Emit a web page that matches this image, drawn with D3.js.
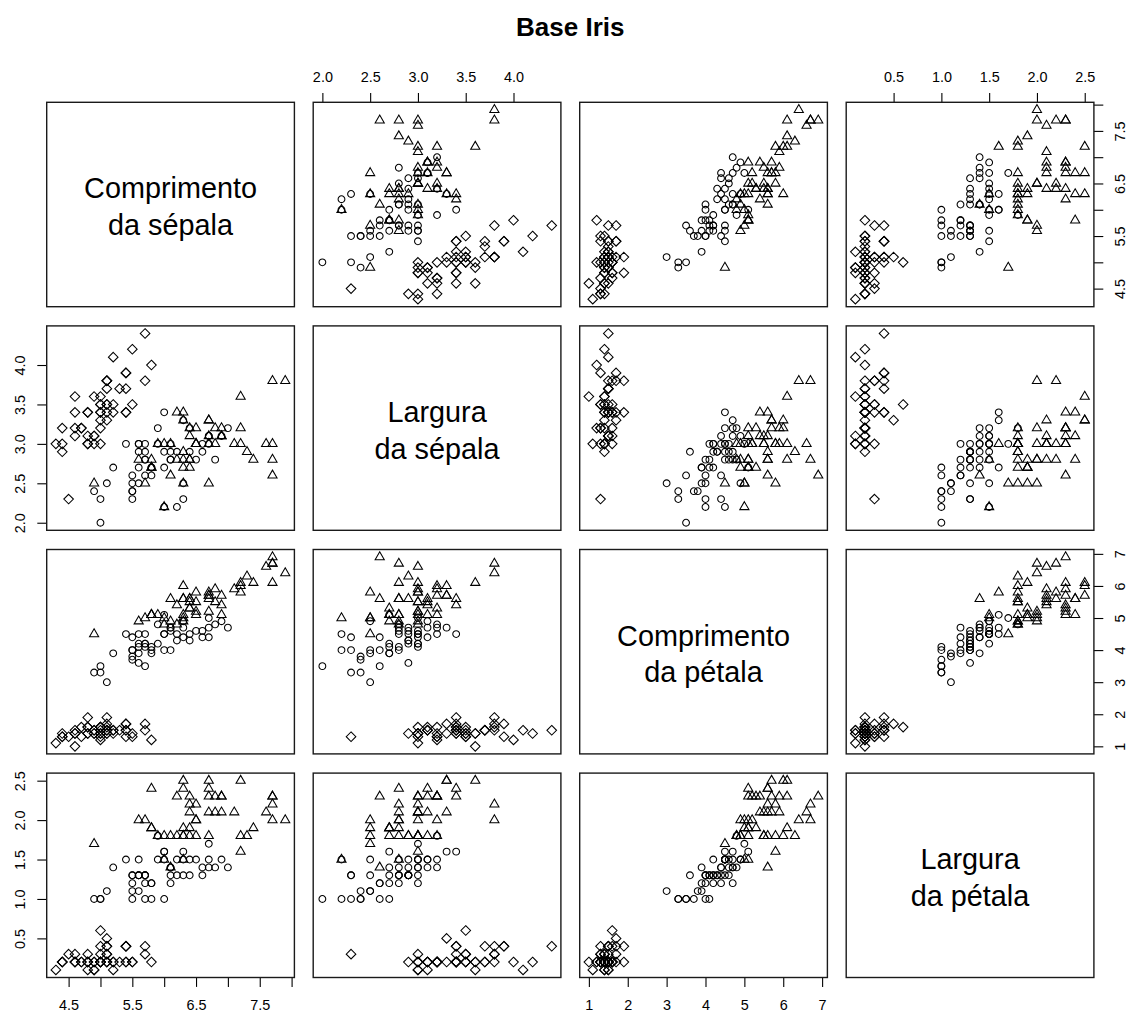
<!DOCTYPE html>
<html>
<head>
<meta charset="utf-8">
<script src="https://cdnjs.cloudflare.com/ajax/libs/d3/7.8.5/d3.min.js"></script>
<style>
  body { margin: 0; background: #fff; }
  svg { display: block; font-family: "Liberation Sans", Arial, sans-serif; }
</style>
</head>
<body>
<div id="pairs_Vis"></div>
<script>
// base iris (Anderson / Fisher), uma linha por flor
var comprSepala = [5.1,4.9,4.7,4.6,5.0,5.4,4.6,5.0,4.4,4.9,5.4,4.8,4.8,4.3,5.8,5.7,5.4,5.1,5.7,5.1,
  5.4,5.1,4.6,5.1,4.8,5.0,5.0,5.2,5.2,4.7,4.8,5.4,5.2,5.5,4.9,5.0,5.5,4.9,4.4,5.1,
  5.0,4.5,4.4,5.0,5.1,4.8,5.1,4.6,5.3,5.0,
  7.0,6.4,6.9,5.5,6.5,5.7,6.3,4.9,6.6,5.2,5.0,5.9,6.0,6.1,5.6,6.7,5.6,5.8,6.2,5.6,
  5.9,6.1,6.3,6.1,6.4,6.6,6.8,6.7,6.0,5.7,5.5,5.5,5.8,6.0,5.4,6.0,6.7,6.3,5.6,5.5,
  5.5,6.1,5.8,5.0,5.6,5.7,5.7,6.2,5.1,5.7,
  6.3,5.8,7.1,6.3,6.5,7.6,4.9,7.3,6.7,7.2,6.5,6.4,6.8,5.7,5.8,6.4,6.5,7.7,7.7,6.0,
  6.9,5.6,7.7,6.3,6.7,7.2,6.2,6.1,6.4,7.2,7.4,7.9,6.4,6.3,6.1,7.7,6.3,6.4,6.0,6.9,
  6.7,6.9,5.8,6.8,6.7,6.7,6.3,6.5,6.2,5.9];

var largSepala = [3.5,3.0,3.2,3.1,3.6,3.9,3.4,3.4,2.9,3.1,3.7,3.4,3.0,3.0,4.0,4.4,3.9,3.5,3.8,3.8,
  3.4,3.7,3.6,3.3,3.4,3.0,3.4,3.5,3.4,3.2,3.1,3.4,4.1,4.2,3.1,3.2,3.5,3.6,3.0,3.4,
  3.5,2.3,3.2,3.5,3.8,3.0,3.8,3.2,3.7,3.3,
  3.2,3.2,3.1,2.3,2.8,2.8,3.3,2.4,2.9,2.7,2.0,3.0,2.2,2.9,2.9,3.1,3.0,2.7,2.2,2.5,
  3.2,2.8,2.5,2.8,2.9,3.0,2.8,3.0,2.9,2.6,2.4,2.4,2.7,2.7,3.0,3.4,3.1,2.3,3.0,2.5,
  2.6,3.0,2.6,2.3,2.7,3.0,2.9,2.9,2.5,2.8,
  3.3,2.7,3.0,2.9,3.0,3.0,2.5,2.9,2.5,3.6,3.2,2.7,3.0,2.5,2.8,3.2,3.0,3.8,2.6,2.2,
  3.2,2.8,2.8,2.7,3.3,3.2,2.8,3.0,2.8,3.0,2.8,3.8,2.8,2.8,2.6,3.0,3.4,3.1,3.0,3.1,
  3.1,3.1,2.7,3.2,3.3,3.0,2.5,3.0,3.4,3.0];

var comprPetala = [1.4,1.4,1.3,1.5,1.4,1.7,1.4,1.5,1.4,1.5,1.5,1.6,1.4,1.1,1.2,1.5,1.3,1.4,1.7,1.5,
  1.7,1.5,1.0,1.7,1.9,1.6,1.6,1.5,1.4,1.6,1.6,1.5,1.5,1.4,1.5,1.2,1.3,1.4,1.3,1.5,
  1.3,1.3,1.3,1.6,1.9,1.4,1.6,1.4,1.5,1.4,
  4.7,4.5,4.9,4.0,4.6,4.5,4.7,3.3,4.6,3.9,3.5,4.2,4.0,4.7,3.6,4.4,4.5,4.1,4.5,3.9,
  4.8,4.0,4.9,4.7,4.3,4.4,4.8,5.0,4.5,3.5,3.8,3.7,3.9,5.1,4.5,4.5,4.7,4.4,4.1,4.0,
  4.4,4.6,4.0,3.3,4.2,4.2,4.2,4.3,3.0,4.1,
  6.0,5.1,5.9,5.6,5.8,6.6,4.5,6.3,5.8,6.1,5.1,5.3,5.5,5.0,5.1,5.3,5.5,6.7,6.9,5.0,
  5.7,4.9,6.7,4.9,5.7,6.0,4.8,4.9,5.6,5.8,6.1,6.4,5.6,5.1,5.6,6.1,5.6,5.5,4.8,5.4,
  5.6,5.1,5.1,5.9,5.7,5.2,5.0,5.2,5.4,5.1];

var largPetala = [0.2,0.2,0.2,0.2,0.2,0.4,0.3,0.2,0.2,0.1,0.2,0.2,0.1,0.1,0.2,0.4,0.4,0.3,0.3,0.3,
  0.2,0.4,0.2,0.5,0.2,0.2,0.4,0.2,0.2,0.2,0.2,0.4,0.1,0.2,0.2,0.2,0.2,0.1,0.2,0.2,
  0.3,0.3,0.2,0.6,0.4,0.3,0.2,0.2,0.2,0.2,
  1.4,1.5,1.5,1.3,1.5,1.3,1.6,1.0,1.3,1.4,1.0,1.5,1.0,1.4,1.3,1.4,1.5,1.0,1.5,1.1,
  1.8,1.3,1.5,1.2,1.3,1.4,1.4,1.7,1.5,1.0,1.1,1.0,1.2,1.6,1.5,1.6,1.5,1.3,1.3,1.3,
  1.2,1.4,1.2,1.0,1.3,1.2,1.3,1.3,1.1,1.3,
  2.5,1.9,2.1,1.8,2.2,2.1,1.7,1.8,1.8,2.5,2.0,1.9,2.1,2.0,2.4,2.3,1.8,2.2,2.3,1.5,
  2.3,2.0,2.0,1.8,2.1,1.8,1.8,1.8,2.1,1.6,1.9,2.0,2.2,1.5,1.4,2.3,2.4,1.8,1.8,2.1,
  2.4,2.3,1.9,2.3,2.5,2.3,1.9,2.0,2.3,1.8];

// s = setosa (losango), e = versicolor (círculo), g = virginica (triângulo)
var especie = ("ssssssssss" + "ssssssssss" + "ssssssssss" + "ssssssssss" + "ssssssssss" +
               "eeeeeeeeee" + "eeeeeeeeee" + "eeeeeeeeee" + "eeeeeeeeee" + "eeeeeeeeee" +
               "gggggggggg" + "gggggggggg" + "gggggggggg" + "gggggggggg" + "gggggggggg").split("");

var rotulos = [["Comprimento", "da sépala"], ["Largura", "da sépala"],
               ["Comprimento", "da pétala"], ["Largura", "da pétala"]];

var marcas = [[4.5, 5.0, 5.5, 6.0, 6.5, 7.0, 7.5, 8.0],
              [2.0, 2.5, 3.0, 3.5, 4.0],
              [1, 2, 3, 4, 5, 6, 7],
              [0.5, 1.0, 1.5, 2.0, 2.5]];
var marcasComTexto = [[4.5, 5.5, 6.5, 7.5],
                      [2.0, 2.5, 3.0, 3.5, 4.0],
                      [1, 2, 3, 4, 5, 6, 7],
                      [0.5, 1.0, 1.5, 2.0, 2.5]];
var formatos = [".1f", ".1f", "d", ".1f"];

var titulo = "Base Iris";

(function () {
    var width = 1126,
        height = 1012;

    var left0 = 46.7, top0 = 102.3,
        pw = 247.7, ph = 204.4,
        passoX = 266.5, passoY = 223.6,
        tick = 9.4;

    var vars = [comprSepala, largSepala, comprPetala, largPetala];

    var svg = d3.select('#pairs_Vis')
                .append('svg')
                .attr('width', width)
                .attr('height', height);

    // dominios como no R: extensao dos dados + 4%
    var dominios = vars.map(function (v) {
        var e = d3.extent(v), r = e[1] - e[0];
        return [e[0] - 0.04 * r, e[1] + 0.04 * r];
    });

    // simbolos pch 1, 2, 5 com as proporcoes do R
    var xc = 3.4;
    function simbolo(sp) {
        if (sp === "e") {
            return "M" + xc + ",0A" + xc + "," + xc + " 0 1,1 " + (-xc) + ",0A" + xc + "," + xc + " 0 1,1 " + xc + ",0Z";
        }
        if (sp === "g") {
            var r = 1.55512 * xc, yc = 0.77756 * xc, hx = 1.34677 * xc;
            return "M0," + (-r) + "L" + hx + "," + yc + "L" + (-hx) + "," + yc + "Z";
        }
        var d = Math.SQRT2 * xc;
        return "M0," + (-d) + "L" + d + ",0L0," + d + "L" + (-d) + ",0Z";
    }

    function rotuloTick(j) {
        var f = d3.format(formatos[j]);
        return function (d) {
            return marcasComTexto[j].indexOf(d) >= 0 ? f(d) : "";
        };
    }

    for (var i = 0; i < 4; i++) {
        for (var j = 0; j < 4; j++) {
            var g = svg.append('g')
                       .attr('transform', 'translate(' + (left0 + j * passoX) + ',' + (top0 + i * passoY) + ')');

            var xScale = d3.scaleLinear().domain(dominios[j]).range([0, pw]);
            var yScale = d3.scaleLinear().domain(dominios[i]).range([ph, 0]);

            if (i === j) {
                var t = g.append('text')
                         .attr('text-anchor', 'middle')
                         .style('font-size', '28.8px')
                         .style('fill', '#000');
                t.append('tspan').attr('x', pw / 2).attr('y', ph / 2 - 6.2).text(rotulos[i][0]);
                t.append('tspan').attr('x', pw / 2).attr('y', ph / 2 + 30.5).text(rotulos[i][1]);
            } else {
                var xs = vars[j], ys = vars[i];
                g.selectAll('path.pt')
                    .data(d3.range(xs.length))
                    .enter()
                    .append('path')
                    .attr('class', 'pt')
                    .attr('d', function (k) { return simbolo(especie[k]); })
                    .attr('transform', function (k) {
                        return 'translate(' + xScale(xs[k]) + ',' + yScale(ys[k]) + ')';
                    })
                    .style('fill', 'none')
                    .style('stroke', '#000')
                    .style('stroke-width', 1.05);
            }

            // eixos como no pairs(): alternados
            var eixo = null, lado = null;
            if (i === 0 && j % 2 === 1) { eixo = d3.axisTop(xScale); lado = 'top'; }
            if (i === 3 && j % 2 === 0) { eixo = d3.axisBottom(xScale).tickSizeOuter(0); lado = 'bottom'; }
            var eixoY = null, ladoY = null;
            if (j === 0 && i % 2 === 1) { eixoY = d3.axisLeft(yScale); ladoY = 'left'; }
            if (j === 3 && i % 2 === 0) { eixoY = d3.axisRight(yScale); ladoY = 'right'; }

            if (eixo) {
                var ax = g.append('g')
                          .attr('class', 'x axis')
                          .attr('transform', lado === 'bottom' ? 'translate(0,' + ph + ')' : null)
                          .call(eixo.tickValues(marcas[j]).tickSize(tick).tickFormat(rotuloTick(j)));
                ax.select('.domain').remove();
                ax.selectAll('line').style('stroke', '#000').style('stroke-width', 1.1);
                ax.selectAll('text')
                  .attr('dy', null)
                  .attr('y', lado === 'bottom' ? 32.5 : -20.8)
                  .style('font-size', '14.4px')
                  .style('font-family', '"Liberation Sans", Arial, sans-serif')
                  .style('fill', '#000');
            }
            if (eixoY) {
                var ay = g.append('g')
                          .attr('class', 'y axis')
                          .attr('transform', ladoY === 'right' ? 'translate(' + pw + ',0)' : null)
                          .call(eixoY.tickValues(marcas[i]).tickSize(tick).tickFormat(rotuloTick(i)));
                ay.select('.domain').remove();
                ay.selectAll('line').style('stroke', '#000').style('stroke-width', 1.1);
                ay.selectAll('text')
                  .attr('dy', null)
                  .attr('x', null)
                  .attr('transform', ladoY === 'right' ? 'translate(30.6,0) rotate(-90)' : 'translate(-21.7,0) rotate(-90)')
                  .style('text-anchor', 'middle')
                  .style('font-size', '14.4px')
                  .style('font-family', '"Liberation Sans", Arial, sans-serif')
                  .style('fill', '#000');
            }

            // caixa do painel
            g.append('rect')
             .attr('width', pw)
             .attr('height', ph)
             .style('fill', 'none')
             .style('stroke', '#1a1a1a')
             .style('stroke-width', 1.4);
        }
    }

    svg.append('text')
       .attr('x', left0 + (3 * passoX + pw) / 2)
       .attr('y', 36)
       .attr('text-anchor', 'middle')
       .style('font-size', '26px')
       .style('font-weight', 'bold')
       .style('fill', '#000')
       .text(titulo);
})();
</script>
</body>
</html>
